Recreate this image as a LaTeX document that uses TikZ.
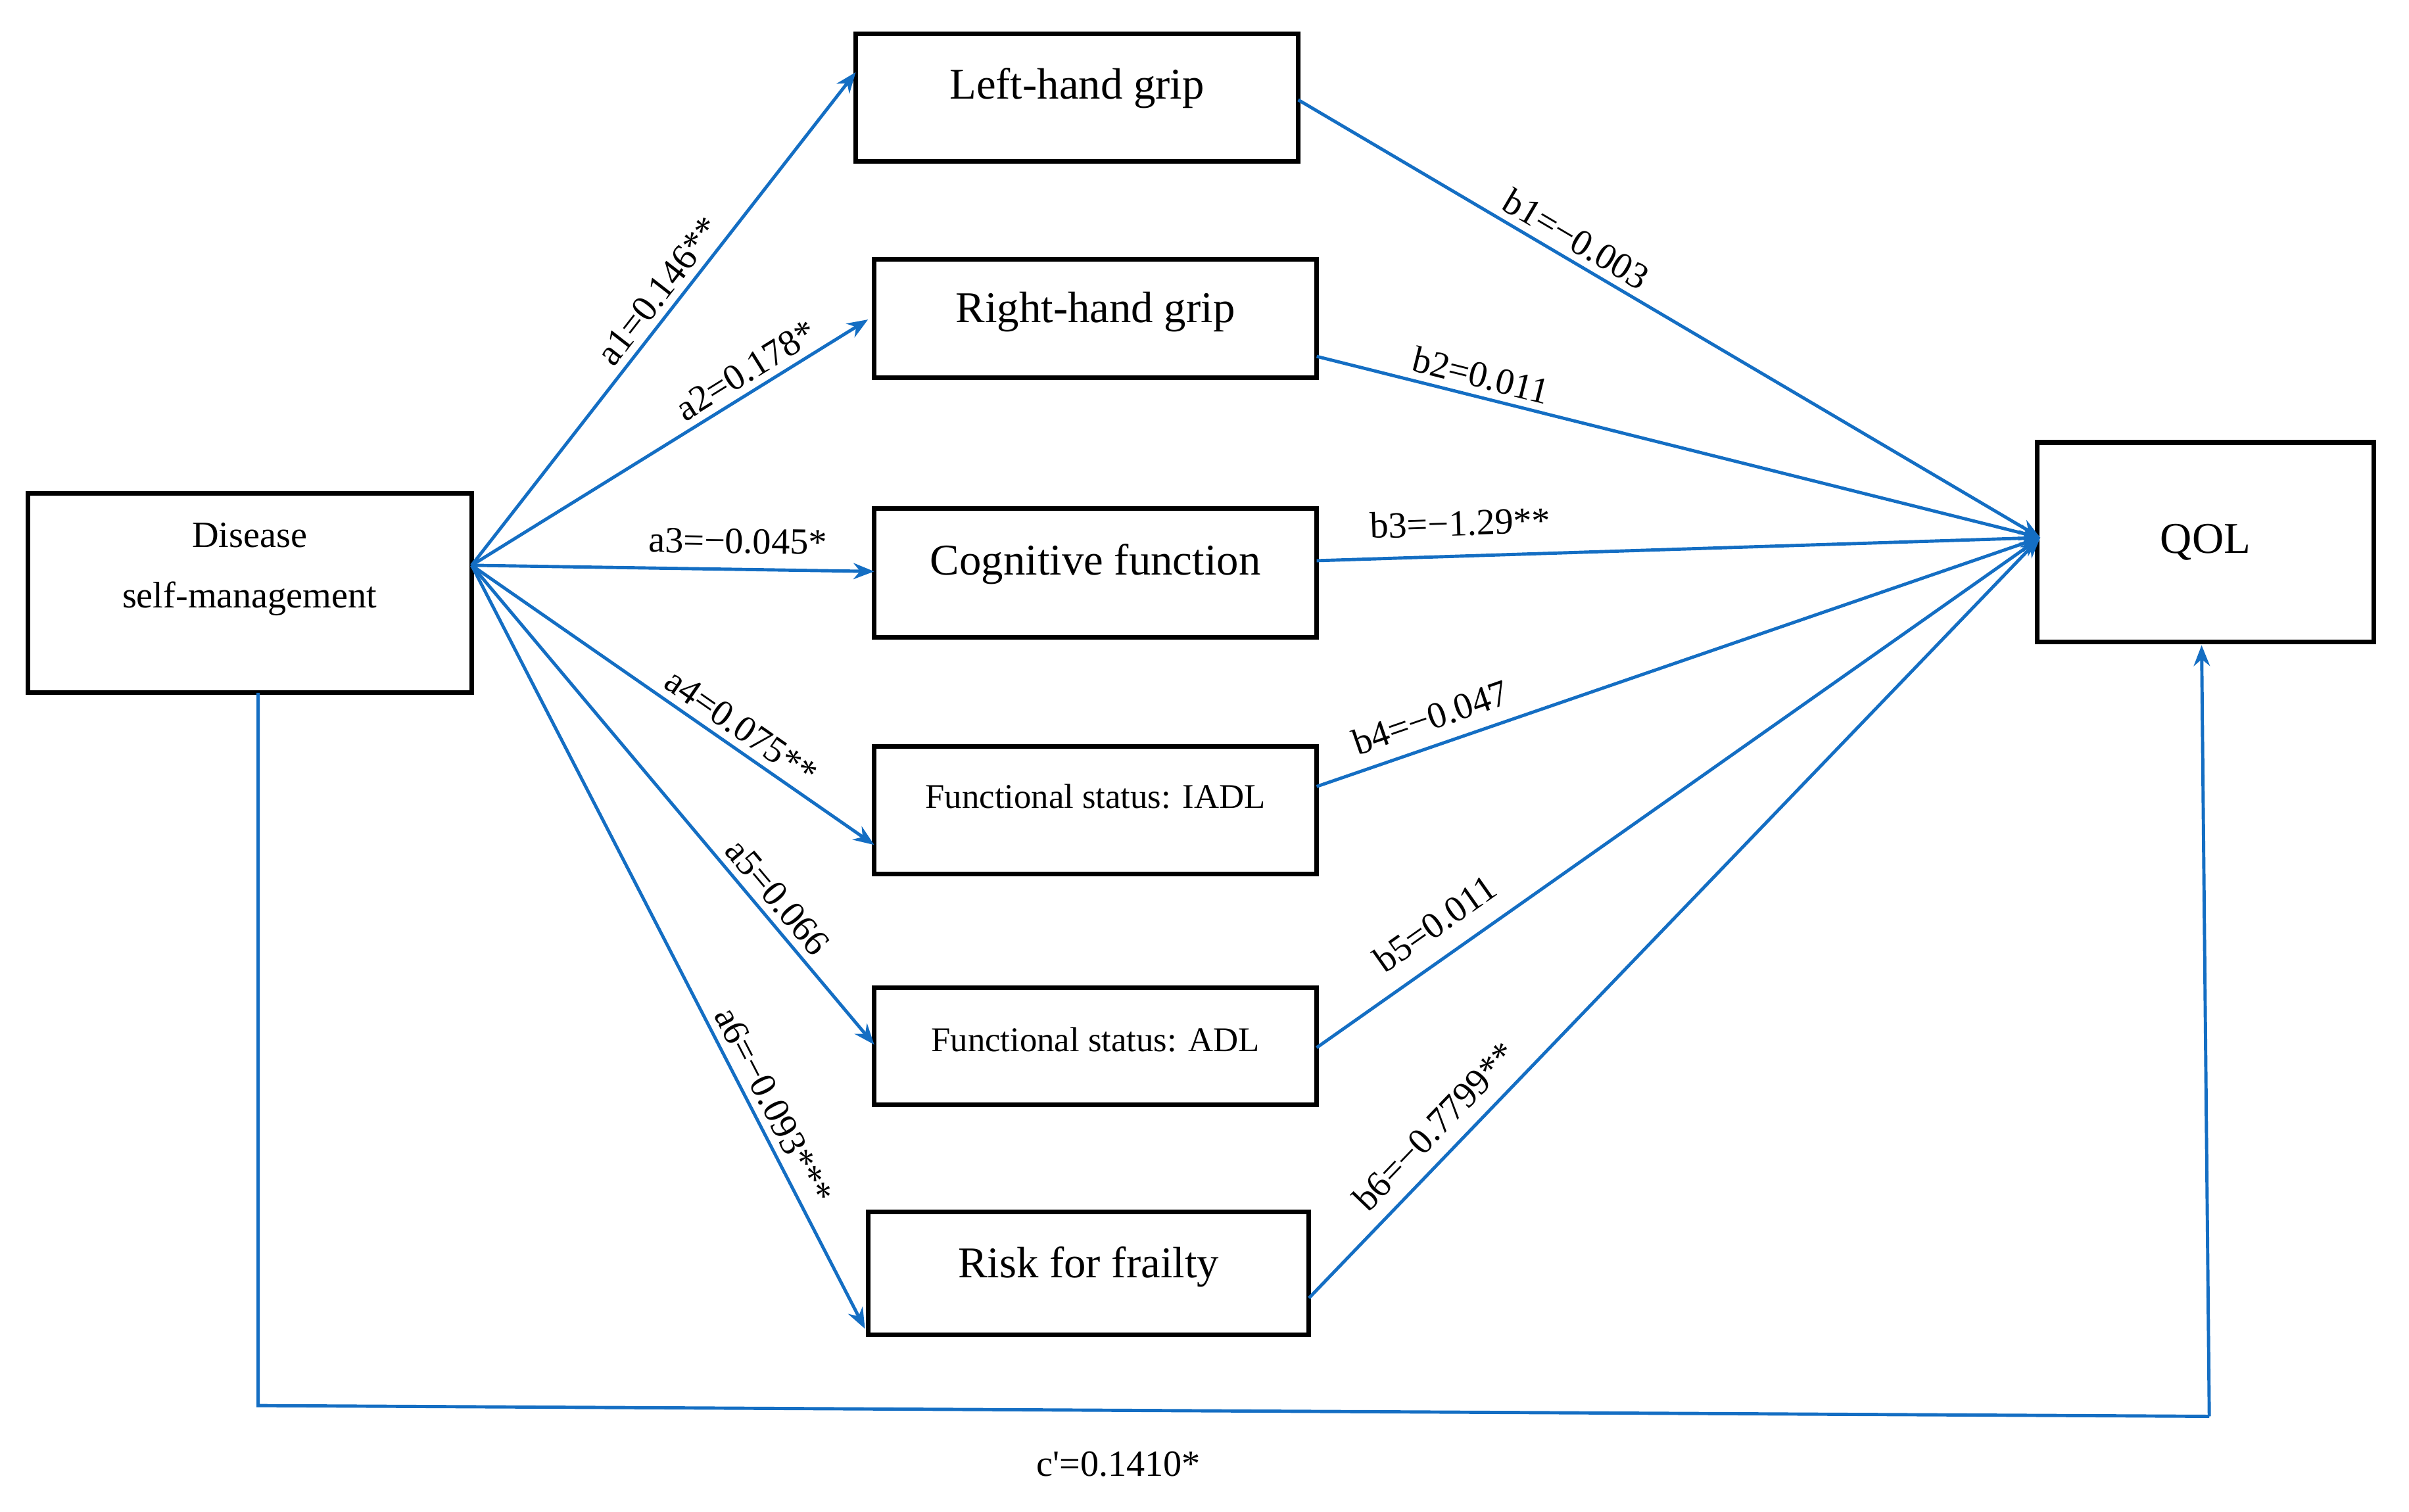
\documentclass[tikz,border=0pt]{standalone}
\usepackage{fontspec}
\setmainfont{Liberation Serif}
\usetikzlibrary{arrows.meta}
\definecolor{ln}{RGB}{20,110,195}
\begin{document}
\begin{tikzpicture}[x=0.023367cm,y=-0.023367cm,
  box/.style={draw=black,line width=2pt,inner sep=0pt},
  arr/.style={draw=ln,line width=1.4pt,-{Stealth[length=9pt,width=7pt]}},
  ln/.style={draw=ln,line width=1.4pt},
  lab/.style={font=\fontsize{16}{18}\selectfont,sloped,above,inner sep=3pt}]
\useasboundingbox (0,0) rectangle (1568,984);
\node[box,minimum width=289*0.023367cm,minimum height=130*0.023367cm,align=center,font=\fontsize{16}{26}\selectfont] (d) at (162.5,386) {Disease\\self-management\\[-2pt]};
\node[box,minimum width=288*0.023367cm,minimum height=83*0.023367cm,font=\fontsize{19}{22}\selectfont] (b1) at (701,63.5) {\raisebox{12pt}{Left-hand grip}};
\node[box,minimum width=288*0.023367cm,minimum height=77*0.023367cm,font=\fontsize{19}{22}\selectfont] (b2) at (713,207.5) {\raisebox{10pt}{Right-hand grip}};
\node[box,minimum width=288*0.023367cm,minimum height=84*0.023367cm,font=\fontsize{19}{22}\selectfont] (b3) at (713,373) {\raisebox{12pt}{Cognitive function}};
\node[box,minimum width=288*0.023367cm,minimum height=83*0.023367cm,font=\fontsize{15}{18}\selectfont] (b4) at (713,527.5) {\raisebox{12pt}{Functional status: IADL}};
\node[box,minimum width=288*0.023367cm,minimum height=76*0.023367cm,font=\fontsize{15}{18}\selectfont] (b5) at (713,681) {\raisebox{6pt}{Functional status: ADL}};
\node[box,minimum width=287*0.023367cm,minimum height=80*0.023367cm,font=\fontsize{19}{22}\selectfont] (b6) at (708.5,829) {\raisebox{10pt}{Risk for frailty}};
\node[box,minimum width=219*0.023367cm,minimum height=130*0.023367cm,font=\fontsize{19}{22}\selectfont] (q) at (1435.5,353) {\raisebox{-3pt}{QOL}};
\coordinate (s) at (307,368);
\coordinate (t) at (1328,350);
\draw[arr] (s) -- (557,47) node[lab,pos=.53] {a1=0.146**};
\draw[arr] (s) -- (565,208) node[lab,pos=.72] {a2=0.178*};
\draw[arr] (s) -- (569,372) node[lab,pos=.66,inner sep=6pt] {a3=−0.045*};
\draw[arr] (s) -- (569,550) node[lab,pos=.64] {a4=0.075**};
\draw[arr] (s) -- (569,680) node[lab,pos=.72] {a5=0.066};
\draw[arr] (s) -- (563,865) node[lab,pos=.72] {a6=−0.093***};
\draw[arr] (845,65) -- (t) node[lab,pos=.36] {b1=−0.003};
\draw[arr] (857,232) -- (t) node[lab,pos=.22] {b2=0.011};
\draw[arr] (857,365) -- (t) node[lab,pos=.2,inner sep=8pt] {b3=−1.29**};
\draw[arr] (857,512) -- (t) node[lab,pos=.17,inner sep=6pt] {b4=−0.047};
\draw[arr] (857,682) -- (t) node[lab,pos=.19,inner sep=8pt] {b5=0.011};
\draw[arr] (852,845) -- (t) node[lab,pos=.2,inner sep=6pt] {b6=−0.7799**};
\coordinate (c1) at (168,915);
\coordinate (c2) at (1438,922);
\draw[ln] (168,451) -- (c1) -- (c2);
\draw[arr] (c2) -- (1433,420);
\node[font=\fontsize{16}{18}\selectfont] (cl) at (728,953) {c\textquotesingle=0.1410*};
\end{tikzpicture}
\end{document}
